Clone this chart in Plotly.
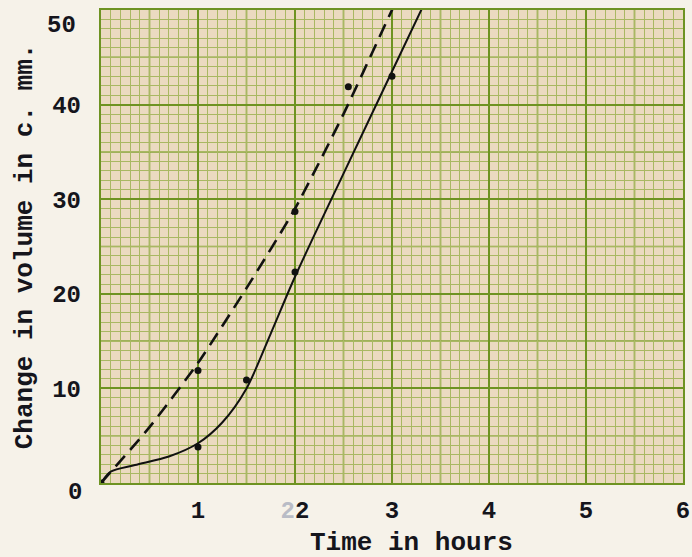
import plotly.graph_objects as go
import numpy as np

# ---- data ----
curve_x = [0, 0.1, 0.35, 0.7, 1.0, 1.25, 1.5, 1.75, 2.0, 2.5, 3.0, 3.32]
curve_y = [0, 1.2, 1.9, 2.8, 4.2, 6.4, 10.0, 15.8, 21.8, 32.7, 43.5, 50.4]
solid_pts_x = [0, 1.0, 1.5, 2.0, 3.0]
solid_pts_y = [0, 3.8, 10.9, 22.3, 43.0]

dash_x = [0, 0.5, 1.0, 1.5, 2.0, 2.5, 3.0, 3.02]
dash_y = [0, 5.9, 12.7, 20.6, 29.0, 39.0, 50.0, 50.4]
dash_pts_x = [1.0, 2.0, 2.55]
dash_pts_y = [11.9, 28.7, 41.9]

x_ticks = [0, 1, 2, 3, 4, 5, 6]
x_ticktext = ["", "1", "<span style='color:#b9bcc6'>2</span>2", "3", "4", "5", "6"]
y_ticks = [0, 10, 20, 30, 40, 50]
y_ticktext = ["", "10", "20", "30", "40", ""]

FONT = "Liberation Mono"
INK = "#15151c"
MAJOR = "#6e9322"
MID = "#86a338"
MINOR = "#a9b862"

fig = go.Figure()

fig.add_trace(go.Scatter(x=curve_x, y=curve_y, mode="lines",
                         line=dict(color="#111111", width=2, shape="spline", smoothing=0.8),
                         hoverinfo="skip", showlegend=False))
fig.add_trace(go.Scatter(x=dash_x, y=dash_y, mode="lines",
                         line=dict(color="#111111", width=2.6, dash="14px,8px", shape="spline", smoothing=0.6),
                         hoverinfo="skip", showlegend=False))
fig.add_trace(go.Scatter(x=solid_pts_x, y=solid_pts_y, mode="markers",
                         marker=dict(color="#111111", size=7), showlegend=False))
fig.add_trace(go.Scatter(x=dash_pts_x, y=dash_pts_y, mode="markers",
                         marker=dict(color="#111111", size=7), showlegend=False))

# medium grid lines (every half unit)
shapes = []
for v in np.arange(0.5, 6, 1.0):
    shapes.append(dict(type="line", xref="x", yref="paper", x0=v, x1=v, y0=0, y1=1,
                       line=dict(color=MID, width=1.6), layer="between"))
for v in np.arange(5, 50, 10):
    shapes.append(dict(type="line", xref="paper", yref="y", x0=0, x1=1, y0=v, y1=v,
                       line=dict(color=MID, width=1.6), layer="between"))

tf = dict(family=FONT, size=24, color=INK, weight="bold")
titlef = dict(family=FONT, size=26, color=INK, weight="bold")

fig.update_layout(
    width=692, height=557,
    margin=dict(l=101, r=9, t=10, b=74, autoexpand=False),
    paper_bgcolor="#f6f2e9",
    plot_bgcolor="#ebdac0",
    shapes=shapes,
    font=dict(family=FONT, color=INK, size=23),
    xaxis=dict(range=[0, 6], tickmode="array", tickvals=x_ticks, ticktext=x_ticktext,
               showgrid=True, gridcolor=MAJOR, gridwidth=2.4, zeroline=False,
               showline=True, linecolor=MAJOR, linewidth=2.4, mirror=True,
               ticks="", ticklabelstandoff=4, automargin=False, ticklabeloverflow="allow",
               tickfont=tf,
               minor=dict(tickmode="linear", tick0=0, dtick=0.1, showgrid=True,
                          gridcolor=MINOR, gridwidth=1),
               fixedrange=True),
    yaxis=dict(range=[0, 50], tickmode="array", tickvals=y_ticks, ticktext=y_ticktext,
               showgrid=True, gridcolor=MAJOR, gridwidth=2.4, zeroline=False,
               showline=True, linecolor=MAJOR, linewidth=2.4, mirror=True,
               ticks="", ticklabelstandoff=13, automargin=False, ticklabeloverflow="allow",
               tickfont=tf,
               minor=dict(tickmode="linear", tick0=0, dtick=1, showgrid=True,
                          gridcolor=MINOR, gridwidth=1),
               fixedrange=True),
    annotations=[
        dict(text="0", xref="paper", yref="paper", x=-0.045, y=-0.02, showarrow=False,
             font=tf, xanchor="center", yanchor="middle"),
        dict(text="50", xref="paper", yref="y", x=-0.04, y=48.4, showarrow=False,
             font=tf, xanchor="right", yanchor="middle"),
        dict(text="Time in hours", xref="x", yref="paper", x=3.2, y=-0.127, showarrow=False,
             font=titlef, xanchor="center", yanchor="middle"),
        dict(text="Change in volume in c. mm.", xref="paper", yref="y", x=-0.131, y=25.0,
             textangle=-90, showarrow=False,
             font=titlef, xanchor="center", yanchor="middle"),
    ],
)

fig.write_html("out.html", config={"displayModeBar": False},
               post_script="document.body.style.margin='0';")
